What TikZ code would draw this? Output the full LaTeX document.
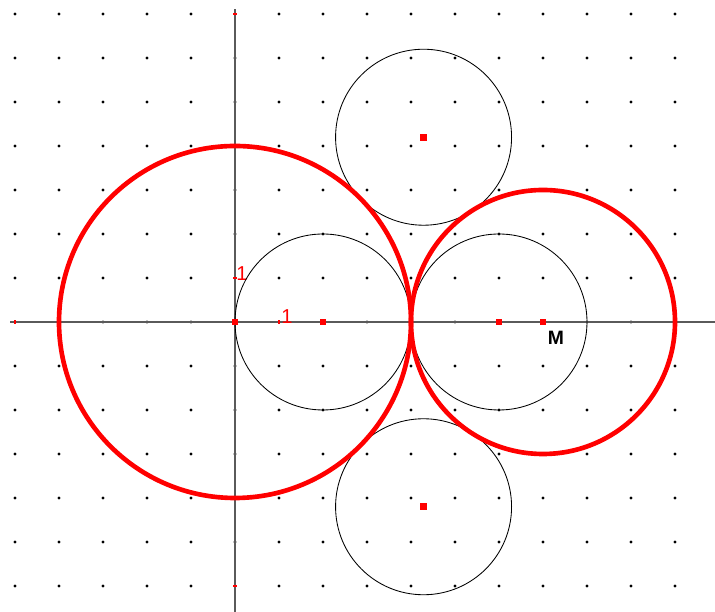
\documentclass[tikz,border=0pt]{standalone}
\usepackage{fontspec}
\setmainfont{Liberation Sans}
\usepackage{tikz}
\usetikzlibrary{positioning, calc}
\definecolor{axisgray}{RGB}{90,90,90}
\definecolor{ptred}{RGB}{255,0,0}
\tikzset{
  gdot/.style={fill=black,inner sep=0pt,minimum size=0.75mm,circle},
  pt/.style={fill=ptred,inner sep=0pt,minimum size=1.5mm,rectangle},
  axis/.style={draw=axisgray,line width=0.9pt},
  tick/.style={draw=ptred,line width=0.8pt},
  thin circ/.style={draw=black,line width=0.55pt},
  red circ/.style={draw=ptred,line width=3pt},
  unitlbl/.style={text=ptred,font=\fontsize{13}{13}\selectfont,inner sep=0pt},
}
\begin{document}
\begin{tikzpicture}
  \useasboundingbox (-5.341,-6.591) rectangle (10.909,7.318);
  % dot grid
  \foreach \x in {-5,...,10}
    \foreach \y in {-6,...,7}
      \node[gdot] at (\x,\y) {};
  % axes
  \draw[axis] (-5.11,0) -- (10.909,0);
  \draw[axis] (0,-6.591) -- (0,7.11);
  \foreach \x in {-5,1}
    \draw[tick] (\x,-0.04) -- (\x,0.04);
  \foreach \y in {-6,1,7}
    \draw[tick] (-0.04,\y) -- (0.04,\y);
  \node[unitlbl] (ux) at (1.18,0.12) {1};
  \node[unitlbl] (uy) at (0.16,1.09) {1};
  % centres
  \coordinate (O) at (0,0);
  \coordinate (A) at (2,0);
  \coordinate (B) at (6,0);
  \coordinate (M) at (7,0);
  \coordinate (T) at (4.2857,4.1991);
  \coordinate (S) at (4.2857,-4.1991);
  % circles
  \draw[thin circ] (A) circle (2);
  \draw[thin circ] (B) circle (2);
  \draw[thin circ] (T) circle (2);
  \draw[thin circ] (S) circle (2);
  \draw[red circ] (O) circle (4);
  \draw[red circ] (M) circle (3);
  % points
  \foreach \p in {O,A,B,M,T,S}
    \node[pt] (p\p) at (\p) {};
  \node[font=\bfseries\fontsize{12.5}{12.5}\selectfont,inner sep=0pt,below right=0.12 and 0.02 of pM] (lblM) {M};
\end{tikzpicture}
\end{document}
